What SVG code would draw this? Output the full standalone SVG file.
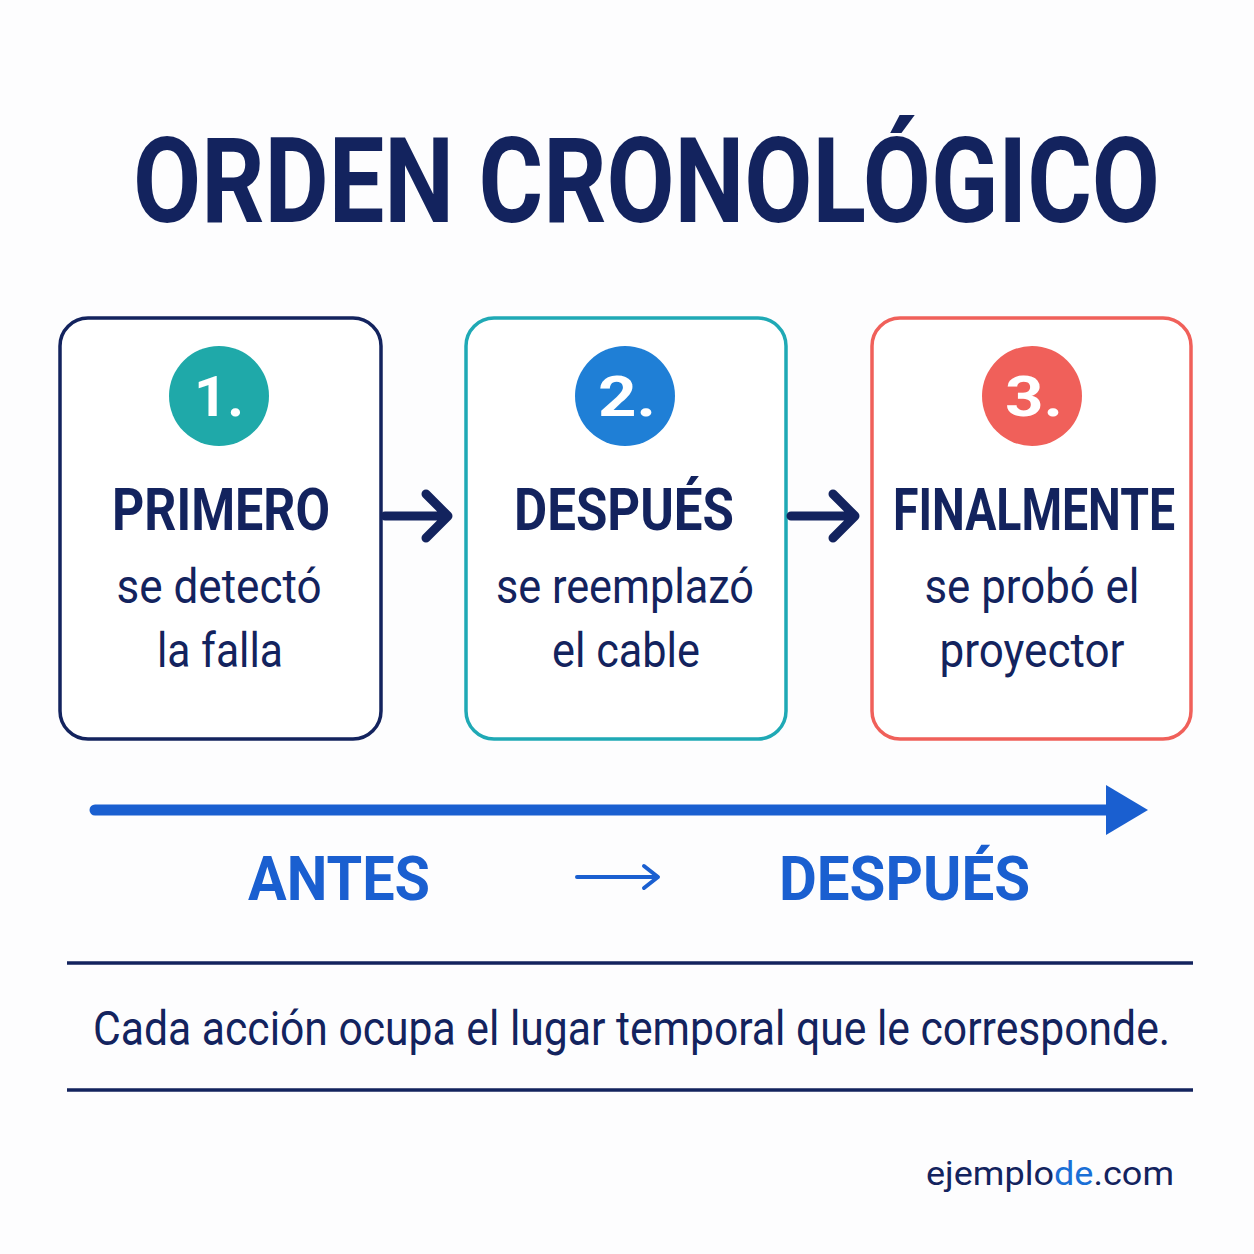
<svg xmlns="http://www.w3.org/2000/svg" width="1254" height="1254" viewBox="0 0 1254 1254">
<style>
text{font-family:Roboto,"Liberation Sans",sans-serif}
.t{font-weight:700;fill:#13235e}
.h{font-weight:700;fill:#13235e;font-size:60px;text-anchor:middle}
.b{fill:#13235e;font-size:48px;text-anchor:middle}
.n{fill:#fff;font-weight:700;font-size:56px;text-anchor:middle}
.box{fill:#fff;stroke-width:3.5}
.c{fill:none;stroke:#13235e;stroke-width:9;stroke-linecap:round;stroke-linejoin:round}
</style>
<rect width="1254" height="1254" fill="#fdfdfe"/>
<text class="t" x="133" y="222" font-size="118" textLength="1027" lengthAdjust="spacingAndGlyphs">ORDEN CRONOLÓGICO</text>
<g id="n1">
<rect class="box" x="60" y="318" width="321" height="421" rx="28" stroke="#13235e"/>
<circle cx="219" cy="396" r="50" fill="#1fa9a9"/>
<text class="n" x="219" y="416" textLength="50" lengthAdjust="spacingAndGlyphs">1.</text>
<text class="h" x="221" y="530" textLength="218" lengthAdjust="spacingAndGlyphs">PRIMERO</text>
<text class="b" x="219" y="603" textLength="205" lengthAdjust="spacingAndGlyphs">se detectó</text>
<text class="b" x="220" y="667" textLength="126" lengthAdjust="spacingAndGlyphs">la falla</text>
</g>
<g id="n2">
<rect class="box" x="466" y="318" width="320" height="421" rx="28" stroke="#1fa9b5"/>
<circle cx="625" cy="396" r="50" fill="#1f7fd6"/>
<text class="n" x="627" y="416" textLength="58" lengthAdjust="spacingAndGlyphs">2.</text>
<text class="h" x="624" y="530" textLength="220" lengthAdjust="spacingAndGlyphs">DESPUÉS</text>
<text class="b" x="625" y="603" textLength="258" lengthAdjust="spacingAndGlyphs">se reemplazó</text>
<text class="b" x="626" y="667" textLength="148" lengthAdjust="spacingAndGlyphs">el cable</text>
</g>
<g id="n3">
<rect class="box" x="872" y="318" width="319" height="421" rx="28" stroke="#f0605a"/>
<circle cx="1032" cy="396" r="50" fill="#f0605a"/>
<text class="n" x="1034" y="416" textLength="58" lengthAdjust="spacingAndGlyphs">3.</text>
<text class="h" x="1034" y="530" textLength="282" lengthAdjust="spacingAndGlyphs">FINALMENTE</text>
<text class="b" x="1032" y="603" textLength="215" lengthAdjust="spacingAndGlyphs">se probó el</text>
<text class="b" x="1032" y="667" textLength="185" lengthAdjust="spacingAndGlyphs">proyector</text>
</g>
<g id="connectors">
<path class="c" d="M385 516H446M426 494L448 516L426 538"/>
<path class="c" d="M791 516H853M833 494L855 516L833 538"/>
<path d="M95 810H1112" stroke="#1a5fd0" stroke-width="11" stroke-linecap="round"/>
<path d="M1106 785L1148 810L1106 835Z" fill="#1a5fd0"/>
<path d="M577 877H656M644 866L658 877L644 888" fill="none" stroke="#1a5fd0" stroke-width="4" stroke-linecap="round" stroke-linejoin="round"/>
</g>
<text x="248" y="900" font-size="62" font-weight="700" fill="#1a5fd0" textLength="182" lengthAdjust="spacingAndGlyphs">ANTES</text>
<text x="779" y="900" font-size="62" font-weight="700" fill="#1a5fd0" textLength="251" lengthAdjust="spacingAndGlyphs">DESPUÉS</text>
<path d="M67 963H1193M67 1090H1193" stroke="#13235e" stroke-width="3.5"/>
<text x="93" y="1045" font-size="48" fill="#13235e" textLength="1077" lengthAdjust="spacingAndGlyphs">Cada acción ocupa el lugar temporal que le corresponde.</text>
<text x="1174" y="1185" font-size="34" text-anchor="end" fill="#13235e" textLength="248" lengthAdjust="spacingAndGlyphs">ejemplo<tspan fill="#1a6fd6">de</tspan>.com</text>
</svg>
